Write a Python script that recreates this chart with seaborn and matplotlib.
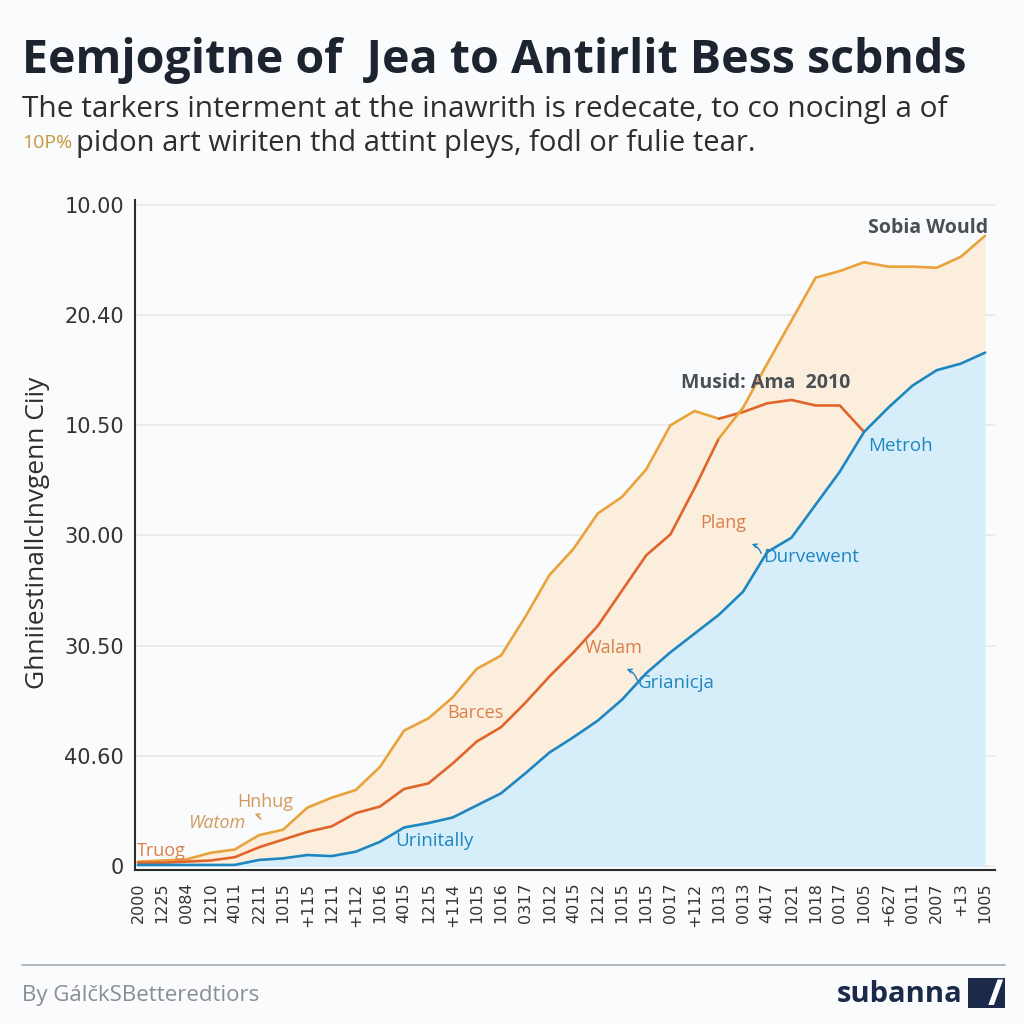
import numpy as np
import pandas as pd
import matplotlib
matplotlib.use("Agg")
import matplotlib.pyplot as plt
import seaborn as sns
from matplotlib.patches import Rectangle, Polygon

# ---------------- data ----------------
x_labels = ["2000", "1225", "0084", "1210", "4011", "2211", "1015", "+115", "1211",
            "+112", "1016", "4015", "1215", "+114", "1015", "1016", "0317", "1012",
            "4015", "1212", "1015", "1015", "0017", "+112", "1013", "0013", "4017",
            "1021", "1018", "0017", "1005", "+627", "0011", "2007", "+13", "1005"]
y_tick_values = [0, 10, 20, 30, 40, 50, 60]
y_tick_labels = ["0", "40.60", "30.50", "30.00", "10.50", "20.40", "10.00"]

blue_values = [0.1, 0.1, 0.1, 0.1, 0.1, 0.55, 0.7, 1.0, 0.9, 1.3, 2.2, 3.5, 3.9, 4.4,
               5.5, 6.6, 8.4, 10.3, 11.7, 13.2, 15.1, 17.5, 19.4, 21.1, 22.8, 24.9,
               28.5, 29.8, 32.8, 35.8, 39.4, 41.6, 43.6, 45.0, 45.6, 46.6]
gold_left = [0.4, 0.5, 0.6, 1.2, 1.5, 2.8, 3.3, 5.3, 6.2, 6.9, 9.0, 12.3, 13.4, 15.3,
             17.9, 19.1, 22.6, 26.4, 28.8, 32.0, 33.5, 36.0, 40.0, 41.3, 40.6]   # idx 0-24
red_left = [0.3, 0.3, 0.4, 0.5, 0.8, 1.7, 2.4, 3.1, 3.6, 4.8, 5.4, 7.0, 7.5, 9.3,
            11.3, 12.6, 14.8, 17.2, 19.4, 21.8, 25.0, 28.2, 30.1, 34.3, 38.8]     # idx 0-24
red_right = [40.6, 41.2, 42.0, 42.3, 41.8, 41.8, 39.4]                           # idx 24-30
gold_right = [38.8, 41.6, 45.6, 49.5, 53.4, 54.0, 54.8, 54.4, 54.4, 54.3, 55.3, 57.2]  # idx 24-35

n = len(x_labels)
idx = np.arange(n)

def padded(vals, start):
    arr = np.full(n, np.nan)
    arr[start:start + len(vals)] = vals
    return arr

series = {
    "gold_left": padded(gold_left, 0),
    "red_left": padded(red_left, 0),
    "red_right": padded(red_right, 24),
    "gold_right": padded(gold_right, 24),
    "blue": np.array(blue_values, dtype=float),
}

rows = []
for name, arr in series.items():
    for i, v in zip(idx, arr):
        if not np.isnan(v):
            rows.append({"idx": i, "value": v, "segment": name})
df = pd.DataFrame(rows)

GOLD = "#E8A33C"
RED = "#E0652B"
BLUE = "#1F86C0"
palette = {"gold_left": GOLD, "gold_right": GOLD, "red_left": RED,
           "red_right": RED, "blue": BLUE}

# ---------------- figure ----------------
sns.set_theme(style="white")
plt.rcParams["font.family"] = ["DejaVu Sans"]
BG = "#FAFBFC"
fig = plt.figure(figsize=(10.24, 10.24), dpi=100, facecolor=BG)
ax = fig.add_axes([135 / 1024, 1 - 870 / 1024, (995 - 135) / 1024, (870 - 200) / 1024])
ax.set_facecolor(BG)

envelope = np.fmax(np.fmax(series["gold_left"], series["red_left"]),
                   np.fmax(series["red_right"], series["gold_right"]))
blue = series["blue"]
ax.fill_between(idx, 0, blue, color="#D6EEFA", lw=0, zorder=1)
ax.fill_between(idx, blue, envelope, where=envelope >= blue, color="#FCEEDD",
                lw=0, zorder=1, interpolate=True)

sns.lineplot(data=df, x="idx", y="value", hue="segment", palette=palette,
             estimator=None, sort=True, legend=False, lw=1.9, ax=ax, zorder=3)

ax.set_xlim(-0.12, 35.41)
ax.set_ylim(-0.36, 60.45)
ax.set_yticks(y_tick_values)
ax.set_yticklabels(y_tick_labels, fontsize=15, color="#333333")
ax.set_xticks(idx)
ax.set_xticklabels(x_labels, rotation=90, fontsize=11.5, color="#333333")
ax.tick_params(axis="both", direction="out", length=5, width=1, colors="#333333",
               pad=4)
ax.tick_params(axis="y", length=5, pad=3)
ax.set_xlabel("")
ax.set_ylabel("")
for s in ["top", "right"]:
    ax.spines[s].set_visible(False)
for s in ["left", "bottom"]:
    ax.spines[s].set_color("#2b2b2b")
    ax.spines[s].set_linewidth(1.5)
ax.yaxis.grid(True, color="#E6E8EB", lw=1.2, zorder=0)
ax.set_axisbelow(True)

# ---------------- annotations ----------------
def px2data(px, py):
    return (px - 138) / 24.2, (866 - py) / 11.02

ann_font = "Open Sans"
def note(text, px, py, color, ha="left", size=13, weight="normal", style="normal"):
    x, y = px2data(px, py)
    ax.text(x, y, text, color=color, ha=ha, va="center", fontsize=size,
            fontweight=weight, fontstyle=style, family=ann_font, zorder=5)

note("Sobia Would", 928, 228, "#4A4F55", ha="center", size=14, weight="bold")
note("Musid: Ama  2010", 766, 383, "#4A4F55", ha="center", size=14, weight="bold")
note("Metroh", 868, 446, BLUE, size=13.5)
note("Plang", 700, 523, "#D9804A", size=13)
note("Durvewent", 763, 557, BLUE, size=13.5)
note("Walam", 585, 648, "#D9804A", size=13)
note("Grianicja", 638, 683, BLUE, size=13.5)
note("Barces", 447, 713, "#D9804A", size=13)
note("Hnhug", 237, 802, "#D39A5A", size=13)
note("Watom", 188, 823, "#D39A5A", size=13, style="italic")
note("Truog", 137, 851, "#D9804A", size=13)
note("Urinitally", 395, 841, BLUE, size=13.5)

def small_arrow(p_from, p_to, color):
    ax.annotate("", xy=px2data(*p_to), xytext=px2data(*p_from),
                arrowprops=dict(arrowstyle="->", color=color, lw=1.0,
                                connectionstyle="arc3,rad=0.3", mutation_scale=7),
                zorder=5)

small_arrow((762, 556), (749, 543), BLUE)
small_arrow((638, 683), (624, 668), BLUE)
small_arrow((262, 822), (252, 813), "#D39A5A")

# ---------------- titles ----------------
fig.text(22 / 1024, 1 - 60 / 1024, "Eemjogitne of  Jea to Antirlit Bess scbnds",
         fontsize=33.5, fontweight="bold", color="#1C2430", family="Open Sans",
         ha="left", va="center")
fig.text(22 / 1024, 1 - 110 / 1024,
         "The tarkers interment at the inawrith is redecate, to co nocingl a of",
         fontsize=21.5, color="#2E2E2E", family="Open Sans", ha="left", va="center")
fig.text(22 / 1024, 1 - 143 / 1024, "10P%", fontsize=14, color="#C49A3C",
         family="Open Sans", ha="left", va="center")
fig.text(76 / 1024, 1 - 143 / 1024,
         "pidon art wiriten thd attint pleys, fodl or fulie tear.",
         fontsize=21, color="#2E2E2E", family="Open Sans", ha="left", va="center")

fig.text(38 / 1024, 1 - 533 / 1024, "Ghniiestinallclnvgenn Ciiy", rotation=90,
         fontsize=19, color="#2E2E2E", family="Open Sans", ha="center", va="center")

# ---------------- footer ----------------
fig.add_artist(plt.Line2D([22 / 1024, 1005 / 1024], [1 - 965 / 1024, 1 - 965 / 1024],
                          color="#A8ABAF", lw=1.2))
fig.text(22 / 1024, 1 - 995 / 1024, "By GálčkSBetteredtiors", fontsize=16,
         color="#8A8D92", family="Open Sans", ha="left", va="center")
fig.text(963 / 1024, 1 - 995 / 1024, "subanna", fontsize=21, fontweight="bold",
         color="#1B2A4A", family="Open Sans", ha="right", va="center")
x0, y0, w, h = 968 / 1024, 1 - 1008 / 1024, 37 / 1024, 30 / 1024
fig.add_artist(Rectangle((x0, y0), w, h, transform=fig.transFigure,
                         color="#1B2A4A", lw=0))
fig.add_artist(Polygon([(x0 + w * 0.55, y0 + h * 0.1), (x0 + w * 0.7, y0 + h * 0.1),
                        (x0 + w * 0.95, y0 + h * 0.95), (x0 + w * 0.8, y0 + h * 0.95)],
                       closed=True, transform=fig.transFigure, color="white", lw=0))

fig.savefig("out.png", dpi=100, facecolor=BG)
